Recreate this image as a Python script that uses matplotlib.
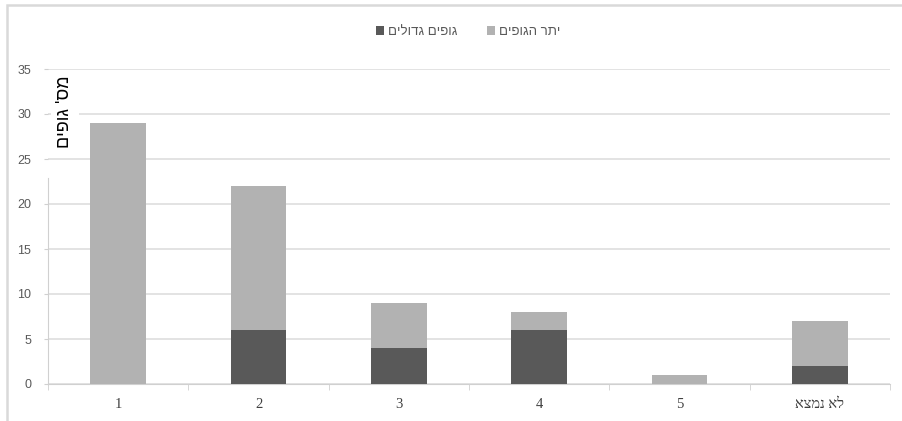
import numpy as np
import matplotlib
matplotlib.use("Agg")
import matplotlib.pyplot as plt
from matplotlib.patches import Rectangle


def heb(s):
    # matplotlib has no bidi support, so hebrew is given in visual order
    return s[::-1]


# data
categories = ["1", "2", "3", "4", "5", "לא נמצא"]
big_bodies = [0, 6, 4, 6, 0, 2]
other_bodies = [29, 16, 5, 2, 1, 5]
label_big = "גופים גדולים"
label_other = "יתר הגופים"
y_label = "מס' גופים"
y_ticks = [0, 5, 10, 15, 20, 25, 30, 35]

dark = "#595959"
light = "#b2b2b2"
grid_c = "#dedede"
axis_c = "#d0d0d0"

fig = plt.figure(figsize=(9.02, 4.21), dpi=100)
ax = fig.add_axes([48 / 902, 37 / 421, 842 / 902, 315 / 421])

x = np.arange(len(categories))
w = 0.395
ax.bar(x, big_bodies, w, color=dark, label=heb(label_big), zorder=3)
ax.bar(x, other_bodies, w, bottom=big_bodies, color=light,
       label=heb(label_other), zorder=3)

ax.set_xlim(-0.5, len(categories) - 0.5)
ax.set_ylim(0, 35)
ax.set_yticks(y_ticks)
ax.yaxis.grid(True, color=grid_c, linewidth=1.2, zorder=0)
ax.set_axisbelow(True)

for s in ["top", "right"]:
    ax.spines[s].set_visible(False)
ax.spines["left"].set_color(axis_c)
ax.spines["bottom"].set_color(axis_c)
ax.spines["left"].set_bounds(0, 22.9)

ax.tick_params(axis="y", length=3, color=axis_c, pad=9,
               labelsize=9, labelcolor="#595959")
for t in ax.get_yticklabels():
    t.set_family("Liberation Sans")

ax.set_xticks(x)
ax.set_xticklabels([heb(c) for c in categories], family="Liberation Serif",
                   fontsize=10.5, color="#404040")
ax.set_xticks(np.arange(-0.5, len(categories)), minor=True)
ax.tick_params(axis="x", which="major", length=0, pad=10)
ax.tick_params(axis="x", which="minor", length=4, color=axis_c)

ax.text(0.02, 0.863, heb(y_label), transform=ax.transAxes, rotation=90,
        ha="center", va="center", fontsize=13, family="Liberation Sans",
        color="black", zorder=5,
        bbox=dict(facecolor="white", edgecolor="none", pad=4))

leg = fig.legend(loc="center", bbox_to_anchor=(468 / 902, 1 - 32 / 421),
                 ncol=2, frameon=False, handlelength=0.65, handleheight=0.65,
                 handletextpad=0.3, columnspacing=2.2,
                 prop={"family": "Liberation Sans", "size": 9.5})
for t in leg.get_texts():
    t.set_color("#595959")

# outer chart border
fig.add_artist(Rectangle((7 / 902, -0.1), 1.2, 1.1 - 5.5 / 421,
                         transform=fig.transFigure, fill=False,
                         edgecolor="#d9d9d9", linewidth=1.8, clip_on=False))

fig.savefig("out.png", dpi=100)
